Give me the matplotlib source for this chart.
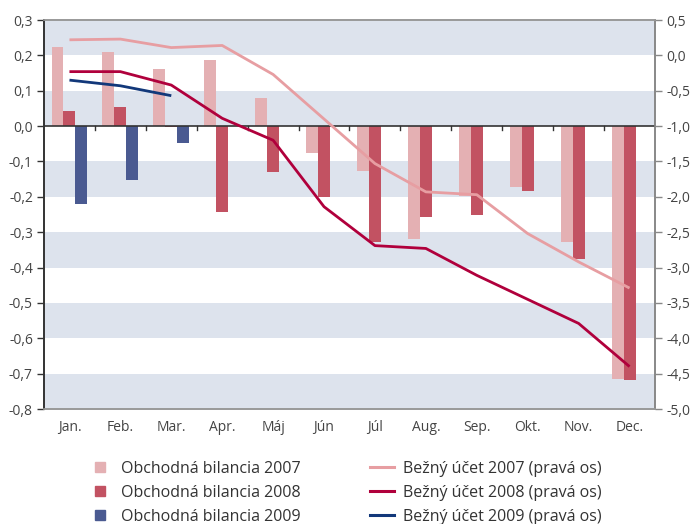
import matplotlib
matplotlib.use("Agg")
import matplotlib.pyplot as plt
import numpy as np
from matplotlib.lines import Line2D
from matplotlib.ticker import FuncFormatter, MultipleLocator

plt.rcParams['font.family'] = ['Open Sans', 'DejaVu Sans']

months = ["Jan.", "Feb.", "Mar.", "Apr.", "Máj", "Jún", "Júl", "Aug.", "Sep.", "Okt.", "Nov.", "Dec."]

tb2007 = [0.223, 0.209, 0.161, 0.186, 0.079, -0.076, -0.126, -0.318, -0.198, -0.171, -0.327, -0.714]
tb2008 = [0.042, 0.054, -0.003, -0.242, -0.129, -0.200, -0.327, -0.256, -0.250, -0.183, -0.376, -0.717]
tb2009 = [-0.219, -0.152, -0.047]

ca2007 = [0.22, 0.23, 0.11, 0.14, -0.27, -0.90, -1.53, -1.93, -1.97, -2.52, -2.92, -3.29]
ca2008 = [-0.23, -0.23, -0.42, -0.89, -1.20, -2.14, -2.69, -2.73, -3.11, -3.45, -3.79, -4.40]
ca2009 = [-0.35, -0.43, -0.57]

labels_bars = ["Obchodná bilancia 2007", "Obchodná bilancia 2008", "Obchodná bilancia 2009"]
labels_lines = ["Bežný účet 2007 (pravá os)", "Bežný účet 2008 (pravá os)", "Bežný účet 2009 (pravá os)"]

c_b07 = "#e4b0b3"
c_b08 = "#c25262"
c_b09 = "#4a5a91"
c_l07 = "#e79ea2"
c_l08 = "#b0003c"
c_l09 = "#12387a"
band = "#dde3ed"
txt = "#444444"

fig = plt.figure(figsize=(6.91, 5.24), dpi=100)
ax = fig.add_axes([44/691, 1-409/524, (655-44)/691, (409-20)/524])
ax2 = ax.twinx()

n = len(months)
x = np.arange(n)
w = 0.235

ax.set_xlim(-0.5, n-0.5)
ax.set_ylim(-0.8, 0.3)
ax2.set_ylim(-5.0, 0.5)

# bands
yt = np.round(np.arange(-0.8, 0.31, 0.1), 2)
for k in range(len(yt)-1):
    if k % 2 == 0:
        ax.axhspan(yt[k], yt[k+1], color=band, lw=0, zorder=0)

ax.bar(x - w, tb2007, width=w, color=c_b07, zorder=2)
ax.bar(x, tb2008, width=w, color=c_b08, zorder=2)
ax.bar(np.arange(len(tb2009)) + w, tb2009, width=w, color=c_b09, zorder=2)

ax.axhline(0, color="#333333", lw=1.2, zorder=3)
for b in np.arange(0.5, n-0.5, 1):
    ax.plot([b, b], [0, -0.011], color="#333333", lw=1, zorder=3, clip_on=False)

ax2.plot(x, ca2007, color=c_l07, lw=2, solid_capstyle='butt', zorder=4)
ax2.plot(x, ca2008, color=c_l08, lw=2, solid_capstyle='butt', zorder=4)
ax2.plot(np.arange(len(ca2009)), ca2009, color=c_l09, lw=2, solid_capstyle='butt', zorder=4)

fmt1 = FuncFormatter(lambda v, p: ("%.1f" % v).replace(".", ",").replace("-0,0", "0,0"))
ax.yaxis.set_major_locator(MultipleLocator(0.1))
ax.yaxis.set_major_formatter(fmt1)
ax2.yaxis.set_major_locator(MultipleLocator(0.5))
ax2.yaxis.set_major_formatter(fmt1)

ax.set_xticks(x)
ax.set_xticklabels(months)
ax.tick_params(axis='x', length=0, pad=8, labelsize=10, labelcolor=txt)
ax.tick_params(axis='y', direction='out', length=5, width=1, color="#333333", labelsize=10, labelcolor=txt, pad=3)
ax2.tick_params(axis='y', direction='out', length=5, width=1, color="#888888", labelsize=10, labelcolor=txt, pad=3)

for a in (ax, ax2):
    a.spines['top'].set_color("#999999")
    a.spines['bottom'].set_color("#999999")
    a.spines['right'].set_color("#888888")
    a.spines['left'].set_color("#333333")
    for s in a.spines.values():
        s.set_linewidth(1.2)

handles = [Line2D([], [], ls='none', marker='s', markersize=7.5, color=c_b07),
           Line2D([], [], ls='none', marker='s', markersize=7.5, color=c_b08),
           Line2D([], [], ls='none', marker='s', markersize=7.5, color=c_b09),
           Line2D([], [], color=c_l07, lw=2.2), Line2D([], [], color=c_l08, lw=2.2), Line2D([], [], color=c_l09, lw=2.2)]
leg = fig.legend(handles, labels_bars + labels_lines, ncol=2, loc='center',
                 bbox_to_anchor=(0.499, 0.06), frameon=False, fontsize=11.5,
                 handlelength=1.5, columnspacing=4.3, labelspacing=0.5,
                 handletextpad=0.6)
for t in leg.get_texts():
    t.set_color("#333333")

fig.savefig("out.png", dpi=100)
